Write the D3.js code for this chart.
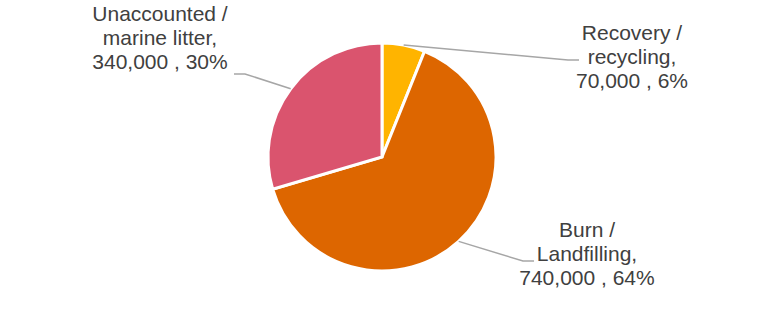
<!DOCTYPE html>
<html>
<head>
<meta charset="utf-8">
<script src="https://cdn.jsdelivr.net/npm/d3@7"></script>
<style>
  html, body { margin: 0; padding: 0; background: #fff; }
  #chart { width: 766px; height: 312px; }
  .label { font-family: "Liberation Sans", Arial, sans-serif; font-size: 21px; fill: #404040; }
</style>
</head>
<body>
<div id="chart"></div>
<script>
// data
const categories = ['Recovery / recycling', 'Burn / Landfilling', 'Unaccounted / marine litter']
const labelLines = [['Recovery /', 'recycling,'], ['Burn /', 'Landfilling,'], ['Unaccounted /', 'marine litter,']]
const values = [70000, 740000, 340000]
const colors = ['#FFB400', '#DD6600', '#DA546E']

// layout
const width = 766, height = 312
const cx = 382, cy = 157, radius = 114
// where each label block sits, relative to pie centre (x centre, first baseline)
const labelPos = [
  { x: 250, y: -117, lineX: 186, lineY: -97 },
  { x: 205, y: 80, lineX: 141, lineY: 104 },
  { x: -222, y: -136, lineX: -137, lineY: -83 }
]

const total = d3.sum(values)
const fmtNum = d3.format(',')
const fmtPct = d3.format('.0%')

const data = categories.map((c, i) => ({ name: c, value: values[i], lines: labelLines[i], color: colors[i], pos: labelPos[i] }))

const svg = d3.select('#chart').append('svg')
  .attr('width', width)
  .attr('height', height)

const g = svg.append('g')
  .attr('transform', `translate(${cx},${cy})`)

const pie = d3.pie().sort(null).value(d => d.value)
const arc = d3.arc().innerRadius(0).outerRadius(radius)
const arcs = pie(data)

g.selectAll('.slice')
  .data(arcs)
  .enter().append('path')
  .attr('class', 'slice')
  .attr('d', arc)
  .attr('fill', d => d.data.color)
  .attr('stroke', '#fff')
  .attr('stroke-width', 3)
  .attr('stroke-linejoin', 'miter')

// leader lines
g.selectAll('.leader')
  .data(arcs)
  .enter().append('polyline')
  .attr('class', 'leader')
  .attr('fill', 'none')
  .attr('stroke', '#A6A6A6')
  .attr('stroke-width', 1.5)
  .attr('points', d => {
    const a = (d.startAngle + d.endAngle) / 2
    const p0 = [radius * Math.sin(a), -radius * Math.cos(a)]
    const p = d.data.pos
    const dir = p.lineX > 0 ? 1 : -1
    const p1 = [p.lineX, p.lineY]
    const p2 = [p.lineX + dir * 11, p.lineY]
    return [p0, p1, p2].map(q => q.join(',')).join(' ')
  })

// labels
const labels = g.selectAll('.label')
  .data(arcs)
  .enter().append('text')
  .attr('class', 'label')
  .attr('text-anchor', 'middle')

labels.each(function (d) {
  const t = d3.select(this)
  const p = d.data.pos
  const lines = d.data.lines.concat([`${fmtNum(d.data.value)} , ${fmtPct(d.data.value / total)}`])
  lines.forEach((l, i) => {
    t.append('tspan')
      .attr('x', p.x)
      .attr('y', p.y + i * 24)
      .text(l)
  })
})
</script>
</body>
</html>
